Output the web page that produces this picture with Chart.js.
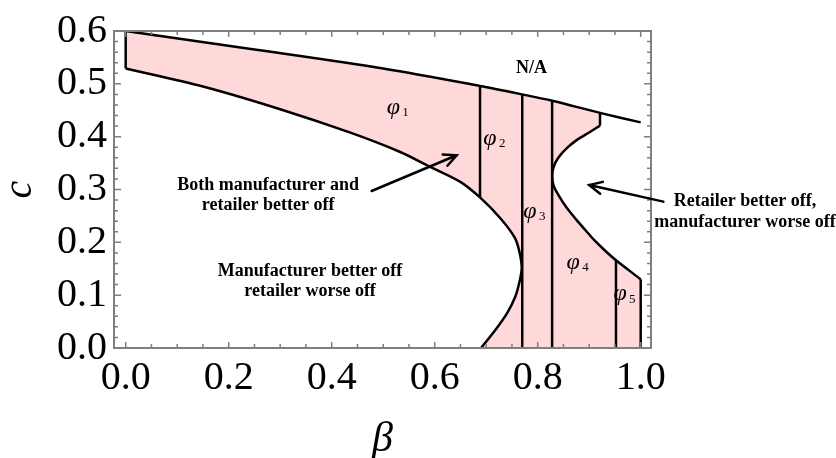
<!DOCTYPE html>
<html>
<head>
<meta charset="utf-8">
<script src="https://cdn.jsdelivr.net/npm/chart.js@4/dist/chart.umd.min.js"></script>
<style>
  html, body { margin: 0; padding: 0; background: #fff; }
  canvas { display: block; }
</style>
</head>
<body>
<canvas id="regionChart" width="836" height="458"></canvas>
<script>
// axis ticks
const xTickValues = [0, 0.2, 0.4, 0.6, 0.8, 1.0];
const yTickValues = [0, 0.1, 0.2, 0.3, 0.4, 0.5, 0.6];

// upper boundary (N/A above)
const upperBeta = [0, 0.25, 0.5, 0.688, 0.77, 0.828, 0.921, 1.0];
const upperC    = [0.6, 0.565, 0.529, 0.496, 0.480, 0.468, 0.445, 0.427];

// lower boundary of phi1 + left "C" curve
const lowerBeta = [0, 0.15, 0.30, 0.435, 0.533, 0.591, 0.649, 0.688, 0.727, 0.756, 0.765, 0.769, 0.765, 0.756, 0.740, 0.717, 0.69];
const lowerC    = [0.529, 0.495, 0.452, 0.408, 0.371, 0.343, 0.315, 0.285, 0.246, 0.208, 0.180, 0.152, 0.127, 0.096, 0.065, 0.033, 0];

// right "C" curve (retailer better off region)
const holeBeta = [0.921, 0.900, 0.875, 0.855, 0.840, 0.831, 0.828, 0.831, 0.840, 0.856, 0.875, 0.890, 0.910, 0.930, 0.952, 1.0];
const holeC    = [0.421, 0.408, 0.393, 0.377, 0.360, 0.343, 0.325, 0.307, 0.290, 0.266, 0.243, 0.226, 0.204, 0.185, 0.166, 0.130];

// vertical separators
const dividerBeta   = [0, 0.688, 0.77, 0.828, 0.921, 0.952, 1.0];
const dividerBottom = [0.529, 0.285, 0, 0, 0.421, 0, 0];
const dividerTop    = [0.6, 0.496, 0.480, 0.468, 0.445, 0.166, 0.130];

const SERIF = '"Liberation Serif", "Times New Roman", serif';
const PINK = '#ffd9d9';

const toPoints = (xs, ys) => xs.map((b, i) => ({ x: b, y: ys[i] }));

// shaded region outline: top -> right C -> bottom -> left C back up
const upperPts = toPoints(upperBeta, upperC);
const lowerPts = toPoints(lowerBeta, lowerC);
const holePts = toPoints(holeBeta, holeC);
const regionPts = [
  ...upperPts.filter(p => p.x <= 0.921),
  ...holePts,
  { x: 1.0, y: 0 },
  ...lowerPts.slice().reverse()
];

function lineSet(data, tension) {
  return {
    data: data,
    borderColor: '#000',
    borderWidth: 2.5,
    pointRadius: 0,
    fill: false,
    tension: tension,
    order: 0
  };
}

const datasets = [
  lineSet(upperPts, 0.3),
  lineSet(lowerPts, 0.3),
  lineSet(holePts, 0.3),
  ...dividerBeta.map((b, i) => lineSet([{ x: b, y: dividerBottom[i] }, { x: b, y: dividerTop[i] }], 0)),
  {
    data: regionPts,
    borderWidth: 0,
    borderColor: 'rgba(0,0,0,0)',
    backgroundColor: PINK,
    pointRadius: 0,
    fill: 'shape',
    tension: 0,
    order: 10
  }
];

// text annotations (data coordinates)
const notes = [
  { lines: ['Both manufacturer and', 'retailer better off'], beta: 0.2765, c: 0.3087, gap: 20 },
  { lines: ['Manufacturer better off', 'retailer worse off'], beta: 0.358, c: 0.1445, gap: 20 },
  { lines: ['Retailer better off,', 'manufacturer worse off'], beta: 1.2025, c: 0.277, gap: 21 },
  { lines: ['N/A'], beta: 0.788, c: 0.530, gap: 0 }
];
const arrows = [
  { from: [0.4775, 0.2972], to: [0.6427, 0.3648] },
  { from: [1.044, 0.277], to: [0.900, 0.3084] }
];
const phiLabels = [
  { sub: '1', beta: 0.5196, c: 0.4553 },
  { sub: '2', beta: 0.7074, c: 0.396 },
  { sub: '3', beta: 0.785, c: 0.258 },
  { sub: '4', beta: 0.869, c: 0.161 },
  { sub: '5', beta: 0.960, c: 0.102 }
];

const frameAndNotes = {
  id: 'frameAndNotes',
  afterDraw(chart) {
    const { ctx, chartArea: a, scales: { x, y } } = chart;
    ctx.save();

    // frame + inward ticks (mathematica style)
    ctx.strokeStyle = '#7f7f7f';
    ctx.lineWidth = 2;
    ctx.strokeRect(a.left, a.top, a.right - a.left, a.bottom - a.top);
    ctx.lineWidth = 1.5;
    ctx.beginPath();
    for (let k = 0; k <= 20; k++) {
      const px = x.getPixelForValue(k * 0.05);
      const len = k % 4 === 0 ? 6 : 4;
      ctx.moveTo(px, a.bottom); ctx.lineTo(px, a.bottom - len);
      ctx.moveTo(px, a.top); ctx.lineTo(px, a.top + len);
    }
    for (let k = 0; k <= 30; k++) {
      const py = y.getPixelForValue(k * 0.02);
      const len = k % 5 === 0 ? 7 : 4;
      ctx.moveTo(a.left, py); ctx.lineTo(a.left + len, py);
      ctx.moveTo(a.right, py); ctx.lineTo(a.right - len, py);
    }
    ctx.stroke();

    // notes
    ctx.fillStyle = '#000';
    ctx.textAlign = 'center';
    ctx.textBaseline = 'middle';
    ctx.font = 'bold 18px ' + SERIF;
    notes.forEach(n => {
      const px = x.getPixelForValue(n.beta);
      const py = y.getPixelForValue(n.c);
      n.lines.forEach((t, i) => ctx.fillText(t, px, py + i * n.gap));
    });

    // arrows
    ctx.strokeStyle = '#000';
    ctx.lineWidth = 2.5;
    ctx.lineCap = 'round';
    arrows.forEach(ar => {
      const x0 = x.getPixelForValue(ar.from[0]), y0 = y.getPixelForValue(ar.from[1]);
      const x1 = x.getPixelForValue(ar.to[0]), y1 = y.getPixelForValue(ar.to[1]);
      const ang = Math.atan2(y1 - y0, x1 - x0);
      ctx.beginPath();
      ctx.moveTo(x0, y0); ctx.lineTo(x1, y1);
      ctx.moveTo(x1 - 14 * Math.cos(ang - 0.45), y1 - 14 * Math.sin(ang - 0.45));
      ctx.lineTo(x1, y1);
      ctx.lineTo(x1 - 14 * Math.cos(ang + 0.45), y1 - 14 * Math.sin(ang + 0.45));
      ctx.stroke();
    });

    // phi labels
    phiLabels.forEach(p => {
      const px = x.getPixelForValue(p.beta);
      const py = y.getPixelForValue(p.c);
      ctx.textAlign = 'center';
      ctx.font = 'italic 24px ' + SERIF;
      ctx.fillText('\u03C6', px, py);
      ctx.textAlign = 'left';
      ctx.font = '13px ' + SERIF;
      ctx.fillText(p.sub, px + 9, py + 5);
    });

    ctx.restore();
  }
};

new Chart(document.getElementById('regionChart'), {
  type: 'line',
  data: { datasets: datasets },
  options: {
    responsive: false,
    animation: false,
    layout: { padding: { top: 28, right: 185, left: 0, bottom: 0 } },
    plugins: { legend: { display: false }, tooltip: { enabled: false } },
    scales: {
      x: {
        type: 'linear',
        min: -0.0227,
        max: 1.02,
        afterBuildTicks: s => { s.ticks = xTickValues.map(v => ({ value: v })); },
        afterFit: s => { s.height = 110; },
        grid: { display: false, drawTicks: false },
        border: { display: false },
        ticks: {
          autoSkip: false, maxRotation: 0, padding: 6,
          color: '#000',
          font: { family: SERIF, size: 40 },
          callback: v => v.toFixed(1)
        },
        title: {
          display: true, text: 'β', color: '#000',
          font: { family: SERIF, size: 42, style: 'italic', lineHeight: 1 },
          padding: { top: 0, bottom: -3 }
        }
      },
      y: {
        type: 'linear',
        min: 0,
        max: 0.6,
        afterBuildTicks: s => { s.ticks = yTickValues.map(v => ({ value: v })); },
        afterFit: s => { s.width = 114; },
        grid: { display: false, drawTicks: false },
        border: { display: false },
        ticks: {
          autoSkip: false, padding: 7,
          color: '#000',
          font: { family: SERIF, size: 40 },
          callback: v => v.toFixed(1)
        },
        title: {
          display: true, text: 'c', color: '#000',
          font: { family: SERIF, size: 40, style: 'italic', lineHeight: 1 },
          padding: { top: 0, bottom: 0 }
        }
      }
    }
  },
  plugins: [frameAndNotes]
});
</script>
</body>
</html>
